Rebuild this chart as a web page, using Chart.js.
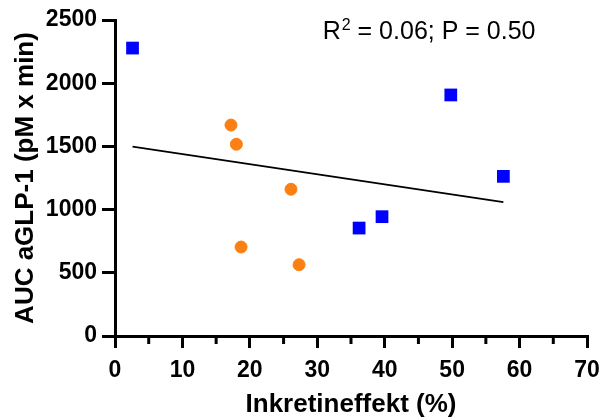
<!DOCTYPE html>
<html>
<head>
  <meta charset="utf-8">
  <title>AUC aGLP-1 vs Inkretineffekt</title>
  <script src="https://cdn.jsdelivr.net/npm/chart.js"></script>
  <style>
    body { margin: 0; background: #fff; }
    #wrap { width: 604px; height: 418px; }
  </style>
</head>
<body>
  <div id="wrap"><canvas id="chart" width="604" height="418"></canvas></div>
  <script>
    // Group 1 (orange circles): Inkretineffekt (%) vs AUC aGLP-1
    const orangeX = [17.2, 18.0, 26.1, 18.7, 27.3];
    const orangeY = [1669, 1517, 1161, 704, 564];
    // Group 2 (blue squares)
    const blueX = [2.6, 49.8, 36.2, 39.6, 57.6];
    const blueY = [2278, 1907, 854, 944, 1263];
    // Regression line end points
    const fitX = [2.6, 57.6];
    const fitY = [1498, 1060];
    const annotation = { x: 30.8, y: 2350, r: 'R', sup: '2', rest: ' = 0.06; P = 0.50' };

    const FONT = 'Arial, "Liberation Sans", sans-serif';
    const pts = (xs, ys) => xs.map((x, i) => ({ x: x, y: ys[i] }));

    // minor x ticks + R^2 text
    const extras = {
      id: 'extras',
      afterDraw(chart) {
        const ctx = chart.ctx;
        const xs = chart.scales.x, ys = chart.scales.y;
        ctx.save();
        ctx.strokeStyle = '#000';
        ctx.lineWidth = 3;
        for (let v = 5; v < 70; v += 10) {
          const px = xs.getPixelForValue(v);
          ctx.beginPath();
          ctx.moveTo(px, ys.bottom);
          ctx.lineTo(px, ys.bottom + 8);
          ctx.stroke();
        }
        let x = xs.getPixelForValue(annotation.x);
        const y = ys.getPixelForValue(annotation.y);
        ctx.fillStyle = '#000';
        ctx.textBaseline = 'alphabetic';
        ctx.textAlign = 'left';
        ctx.font = '25px ' + FONT;
        ctx.fillText(annotation.r, x, y);
        x += ctx.measureText(annotation.r).width + 1;
        ctx.font = '16px ' + FONT;
        ctx.fillText(annotation.sup, x, y - 9);
        x += ctx.measureText(annotation.sup).width;
        ctx.font = '25px ' + FONT;
        ctx.fillText(annotation.rest, x, y);
        ctx.restore();
      }
    };

    new Chart(document.getElementById('chart'), {
      type: 'scatter',
      data: {
        datasets: [
          {
            data: pts(orangeX, orangeY),
            backgroundColor: '#fb8013',
            borderColor: '#fb8013',
            borderWidth: 1,
            pointStyle: 'circle',
            pointRadius: 6
          },
          {
            data: pts(blueX, blueY),
            backgroundColor: '#0000ff',
            borderColor: '#0000ff',
            borderWidth: 0,
            pointStyle: 'rect',
            pointRadius: 9
          },
          {
            type: 'line',
            data: pts(fitX, fitY),
            borderColor: '#000',
            borderWidth: 1.8,
            pointRadius: 0,
            fill: false
          }
        ]
      },
      plugins: [extras],
      options: {
        responsive: false,
        animation: false,
        devicePixelRatio: 1,
        layout: { padding: { top: 20, right: 17, bottom: 0, left: 0 } },
        plugins: { legend: { display: false }, tooltip: { enabled: false } },
        scales: {
          x: {
            type: 'linear',
            min: 0, max: 70,
            afterFit(scale) {
              scale.height = 82;
              scale.paddingLeft = 0;
              scale.paddingRight = 0;
            },
            ticks: {
              stepSize: 10, color: '#000', padding: 9,
              font: { family: FONT, size: 23, weight: 'bold' },
              callback: v => String(v)
            },
            grid: { drawOnChartArea: false, color: '#000', lineWidth: 3, tickLength: 12 },
            border: { color: '#000', width: 3 },
            title: {
              display: true, text: 'Inkretineffekt (%)', color: '#000',
              font: { family: FONT, size: 26, weight: 'bold', lineHeight: 1 },
              padding: { top: 0, bottom: 0 }
            }
          },
          y: {
            min: 0, max: 2500,
            afterFit(scale) { scale.width = 115; },
            ticks: {
              stepSize: 500, color: '#000', padding: 5,
              font: { family: FONT, size: 23, weight: 'bold' },
              callback: v => String(v)
            },
            grid: { drawOnChartArea: false, color: '#000', lineWidth: 3, tickLength: 13 },
            border: { color: '#000', width: 3 },
            title: {
              display: true, text: 'AUC aGLP-1 (pM x min)', color: '#000',
              font: { family: FONT, size: 26, weight: 'bold', lineHeight: 1 },
              padding: { top: 13, bottom: 0 }
            }
          }
        }
      }
    });
  </script>
</body>
</html>
